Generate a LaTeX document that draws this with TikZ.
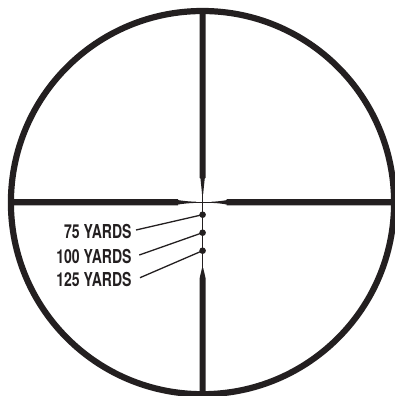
\documentclass[tikz,border=0pt]{standalone}
\usepackage{fontspec}
\newfontfamily\labelfont[FakeStretch=0.73,BoldFont={TeX Gyre Heros Bold}]{TeX Gyre Heros}
\definecolor{ink}{HTML}{231F20}
\tikzset{
  x=1pt,y=-1pt,
  post/.style={fill=ink,draw=none},
  hair/.style={draw=ink,line width=1.4pt},
  leader/.style={draw=ink,line width=1.3pt},
  dot/.style={circle,fill=ink,draw=none,inner sep=0pt,minimum size=6.6pt},
  rangelabel/.style={font=\labelfont\bfseries\fontsize{19.2}{21}\selectfont,text=ink,anchor=east,inner sep=0pt}
}
\begin{document}
\begin{tikzpicture}
\useasboundingbox (0,0) rectangle (395,396);
\clip (0,0) rectangle (395,396);
% ring
\draw[ink,line width=6.2pt] (202.5,202.6) circle [radius=191.6];
% hairlines
\draw[hair] (202.6,190) -- (202.6,272);
\draw[hair] (192,202.3) -- (214,202.3);
% posts
\path[post] (10,199.2) -- (178,199.2) -- (178,200.1) .. controls (184,201) and (190,201.6) .. (196,201.7) -- (196,202.9) .. controls (190,203) and (184,203.6) .. (178,204.5) -- (178,205.4) -- (10,205.4) -- cycle;
\path[post] (393,199.2) -- (226.7,199.2) -- (226.7,200.1) .. controls (222,201) and (216,201.6) .. (211.5,201.7) -- (211.5,202.9) .. controls (216,203) and (222,203.6) .. (226.7,204.5) -- (226.7,205.4) -- (393,205.4) -- cycle;
\path[post] (199.5,10) -- (199.5,178) -- (200.4,178) .. controls (201,184) and (201.7,190) .. (202,194) -- (203.2,194) .. controls (203.5,190) and (204.2,184) .. (204.8,178) -- (205.7,178) -- (205.7,10) -- cycle;
\path[post] (199.5,394) -- (199.5,279) .. controls (200.2,275) and (201.4,271) .. (202,268) -- (203.2,268) .. controls (203.8,271) and (205,275) .. (205.7,279) -- (205.7,394) -- cycle;
% dots
\node[dot] (d75) at (202.6,214.7) {};
\node[dot] (d100) at (202.6,232.7) {};
\node[dot] (d125) at (202.6,250.7) {};
% labels
\node[rangelabel] (l75) at (131.7,231.5) {75 YARDS};
\node[rangelabel] (l100) at (131.7,256.5) {100 YARDS};
\node[rangelabel] (l125) at (131.7,279) {125 YARDS};
% leaders
\coordinate (e75) at (136,230);
\coordinate (e100) at (139.3,255);
\coordinate (e125) at (140,277.7);
\draw[leader] (e75) -- (d75.center);
\draw[leader] (e100) -- (d100.center);
\draw[leader] (e125) -- (d125.center);
\end{tikzpicture}
\end{document}
